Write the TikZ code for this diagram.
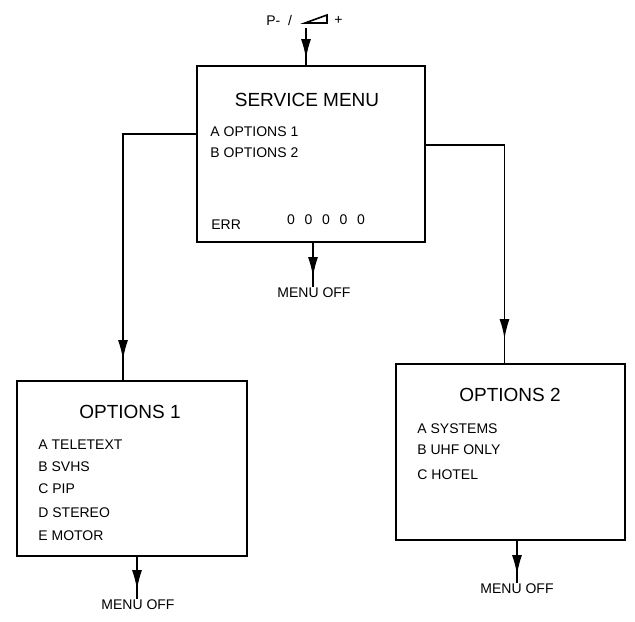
\documentclass[tikz,border=0pt]{standalone}
\usepackage{fontspec}
\setmainfont{Liberation Sans}
\usetikzlibrary{arrows.meta,decorations.markings}
\tikzset{
  panel/.style={draw,line width=1pt,inner sep=0pt},
  menutitle/.style={font=\fontsize{9.5}{11}\selectfont,inner sep=0pt},
  entry/.style={font=\fontsize{7}{8}\selectfont,anchor=west,inner sep=0pt},
  offlabel/.style={font=\fontsize{7}{8}\selectfont,anchor=north,inner sep=0pt},
  flow/.style={line width=0.9pt,postaction={decorate},
    decoration={markings,mark=at position -#1 with {\arrow{Latex[length=10pt,width=5pt]}}}},
}
\begin{document}
\begin{tikzpicture}[x=0.5pt,y=-0.5pt]
  \useasboundingbox (0,0) rectangle (635,621);
  % key line on top
  \node[entry] (pm) at (266,20) {P-\ \ /};
  \draw[line width=0.8pt] (305,23) -- (327,23) -- (327,15) -- cycle;
  \node[entry] (pl) at (334,20) {+};
  \coordinate (pin) at (306,28);
  % boxes
  \node[panel,minimum width=114pt,minimum height=88pt] (svc) at (311,154) {};
  \node[panel,minimum width=115pt,minimum height=87.5pt] (opt1) at (132,468.5) {};
  \node[panel,minimum width=114.5pt,minimum height=88pt] (opt2) at (510.5,452) {};
  % service menu
  \node[menutitle] (svct) at (307,100) {SERVICE MENU};
  \node[entry] (sa) at (210,132) {A OPTIONS 1};
  \node[entry] (sb) at (210,153) {B OPTIONS 2};
  \node[entry] (err) at (211,225) {ERR};
  \foreach \i in {0,...,4}{
    \node[entry,anchor=center] (z\i) at (291+17.5*\i,220) {0};
  }
  % options 1
  \node[menutitle] (o1t) at (130,412) {OPTIONS 1};
  \foreach \y/\t [count=\n] in {445/A TELETEXT,467/B SVHS,489/C PIP,513/D STEREO,536/E MOTOR}{
    \node[entry] (a\n) at (38,\y) {\t};
  }
  % options 2
  \node[menutitle] (o2t) at (510,395) {OPTIONS 2};
  \foreach \y/\t [count=\n] in {429/A SYSTEMS,450/B UHF ONLY,475/C HOTEL}{
    \node[entry] (b\n) at (417,\y) {\t};
  }
  % menu off labels
  \node[offlabel] (off0) at (314,287) {MENU OFF};
  \node[offlabel] (off1) at (138,599) {MENU OFF};
  \node[offlabel] (off2) at (517,583) {MENU OFF};
  % connectors
  \draw[flow=3pt] (pin) -- ([xshift=-2.5pt]svc.north);
  \draw[flow=10pt] ([yshift=10pt]svc.west) -| ([xshift=-4.5pt]opt1.north);
  \draw[flow=12pt] ([yshift=4.5pt]svc.east) -| ([xshift=-3pt]opt2.north);
  \draw[flow=5pt] ([xshift=1pt]svc.south) -- ([xshift=1pt]svc.south |- off0.north);
  \draw[flow=4.5pt] ([xshift=2.5pt]opt1.south) -- ([xshift=2.5pt]opt1.south |- off1.north);
  \draw[flow=4pt] ([xshift=3.25pt]opt2.south) -- ([xshift=3.25pt]opt2.south |- off2.north);
\end{tikzpicture}
\end{document}
